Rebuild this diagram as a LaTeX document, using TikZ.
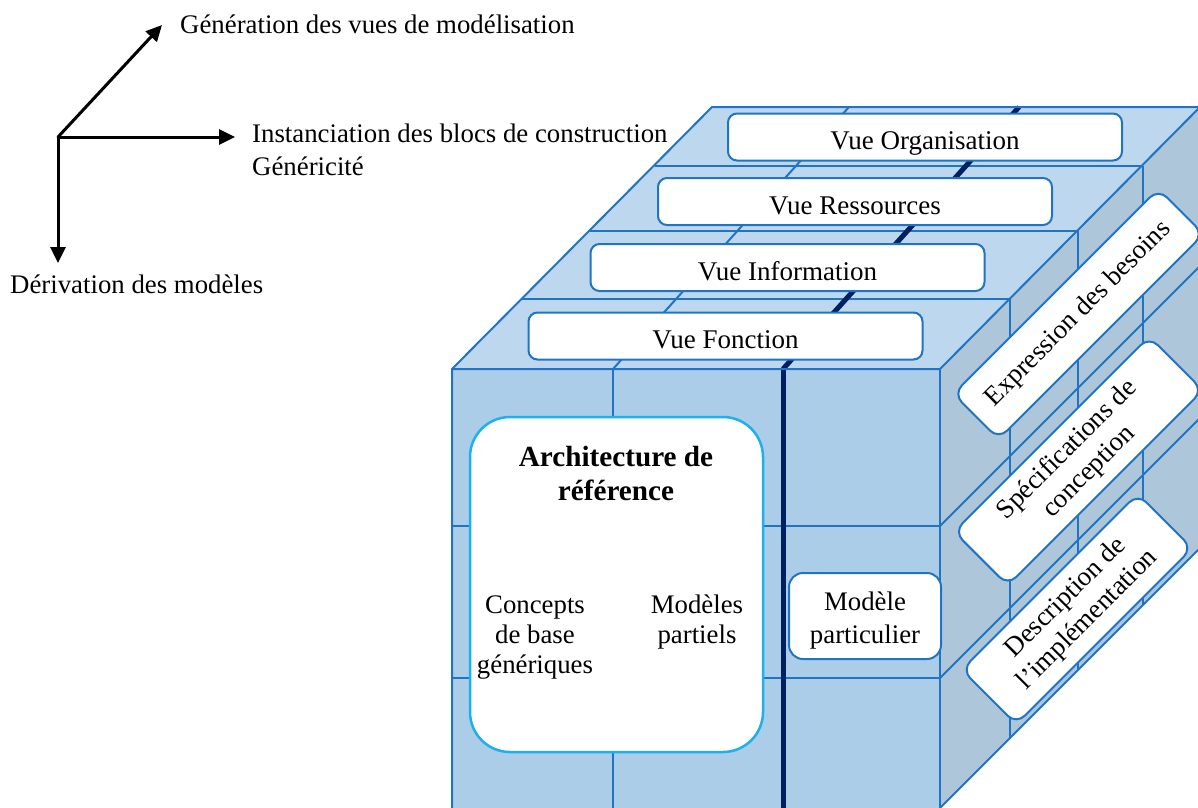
\documentclass[tikz,border=0pt]{standalone}
\usepackage{fontspec}
\setmainfont{Liberation Serif}
\usetikzlibrary{arrows.meta}
\definecolor{topc}{RGB}{189,215,238}
\definecolor{frontc}{RGB}{171,205,232}
\definecolor{sidec}{RGB}{173,198,218}
\definecolor{edgec}{RGB}{31,117,196}
\definecolor{archc}{RGB}{28,176,236}
\definecolor{darkc}{RGB}{0,32,96}
\tikzset{
 txt/.style={font=\fontsize{26.8}{31}\selectfont, inner sep=0pt},
 boldtxt/.style={font=\fontsize{29.2}{34}\selectfont\bfseries, inner sep=0pt},
 edge/.style={draw=edgec, line width=2pt, line join=round},
 darkln/.style={draw=darkc, line width=5pt},
 viewbox/.style={draw=edgec, line width=2pt, fill=white, rounded corners=9pt, minimum width=394pt, minimum height=47pt, inner sep=0pt, font=\fontsize{27}{31}\selectfont, text height=27pt, text depth=2pt},
 archbox/.style={draw=archc, line width=2.5pt, fill=white, rounded corners=40pt, minimum width=293pt, minimum height=335pt, inner sep=0pt},
 partbox/.style={draw=edgec, line width=2pt, fill=white, rounded corners=14pt, minimum width=152pt, minimum height=86pt, inner sep=0pt},
 rotbox/.style={draw=edgec, line width=2pt, fill=white, rounded corners=12pt, rotate=45, inner sep=0pt, align=center, font=\fontsize{27}{31}\selectfont},
 axis/.style={line width=3pt, line cap=round, -{Triangle[length=16pt,width=15pt]}},
 axis2/.style={line width=3pt, {Triangle[length=16pt,width=15pt]}-{Triangle[length=16pt,width=15pt]}},
}
\begin{document}
\begin{tikzpicture}[x=1pt,y=-1pt]
\useasboundingbox (0,0) rectangle (1198,807);
\begin{scope}
\clip (0,0) rectangle (1198,807);
% faces
\fill[sidec] (940,369) -- (1200,107) -- (1200,548) -- (940,808) -- cycle;
\fill[topc] (452,369) -- (712,107) -- (1200,107) -- (940,369) -- cycle;
\fill[frontc] (452,369) rectangle (940,812);
% top face layers
\draw[edge] (522,299) -- (1010,299);
\draw[edge] (590,231) -- (1078,231);
\draw[edge] (655,166) -- (1143,166);
\draw[edge] (613,369) -- (849,107);
\draw[darkln] (783,369) -- (1019,107);
% right face grid
\draw[edge] (1010,299) -- (1010,738);
\draw[edge] (1078,231) -- (1078,670);
\draw[edge] (1143,166) -- (1143,605);
\draw[edge] (940,526) -- (1200,266);
\draw[edge] (940,678) -- (1200,418);
% front face grid
\draw[edge] (613,369) -- (613,812);
\draw[edge] (452,526) -- (940,526);
\draw[edge] (452,678) -- (940,678);
\draw[darkln] (783,369) -- (783,812);
% outlines
\draw[edge] (452,812) -- (452,369) -- (712,107) -- (1200,107);
\draw[edge] (452,369) -- (940,369) -- (1200,107);
\draw[edge] (940,369) -- (940,812);
\draw[edge] (940,808) -- (1200,548);
% view boxes
\node[viewbox] (vorg) at (925,137) {Vue Organisation};
\node[viewbox] (vres) at (855,201.5) {Vue Ressources};
\node[viewbox] (vinf) at (787.5,267.5) {Vue Information};
\node[viewbox] (vfon) at (725.5,336) {Vue Fonction};
% architecture
\node[archbox] (arch) at (616.5,584.5) {};
\node[boldtxt, anchor=base] (arch1) at (616,466) {Architecture de};
\node[boldtxt, anchor=base] (arch2) at (616,500) {référence};
\node[txt, anchor=base] (conc1) at (535,613) {Concepts};
\node[txt, anchor=base] (conc2) at (535,643) {de base};
\node[txt, anchor=base] (conc3) at (535,673) {génériques};
\node[txt, anchor=base] (mod1) at (697,613) {Modèles};
\node[txt, anchor=base] (mod2) at (697,643) {partiels};
\node[partbox] (part) at (865,616) {};
\node[txt, anchor=base] (part1) at (865,610) {Modèle};
\node[txt, anchor=base] (part2) at (865,643) {particulier};
% rotated boxes
\node[rotbox, minimum width=290pt, minimum height=64pt] (expr) at (1078.5,314) {Expression des besoins};
\node[rotbox, minimum width=276pt, minimum height=76pt] (spec) at (1078.5,461) {Spécifications de\\conception};
\node[rotbox, minimum width=249pt, minimum height=77pt] (desc) at (1077,609) {Description de\\l’implémentation};
\end{scope}
% axes
\coordinate (o) at (58,137);
\coordinate (g) at (162,25);
\coordinate (i) at (235,137);
\coordinate (d) at (58,263);
\draw[axis2] (d) -- (o) -- (i);
\draw[axis] (o) -- (g);
\node[txt, anchor=base west] (tg) at (180,33) {Génération des vues de modélisation};
\node[txt, anchor=base west] (ti) at (252,142) {Instanciation des blocs de construction};
\node[txt, anchor=base west] (tgen) at (252,175) {Généricité};
\node[txt, anchor=base west] (td) at (10,293) {Dérivation des modèles};
\end{tikzpicture}
\end{document}
